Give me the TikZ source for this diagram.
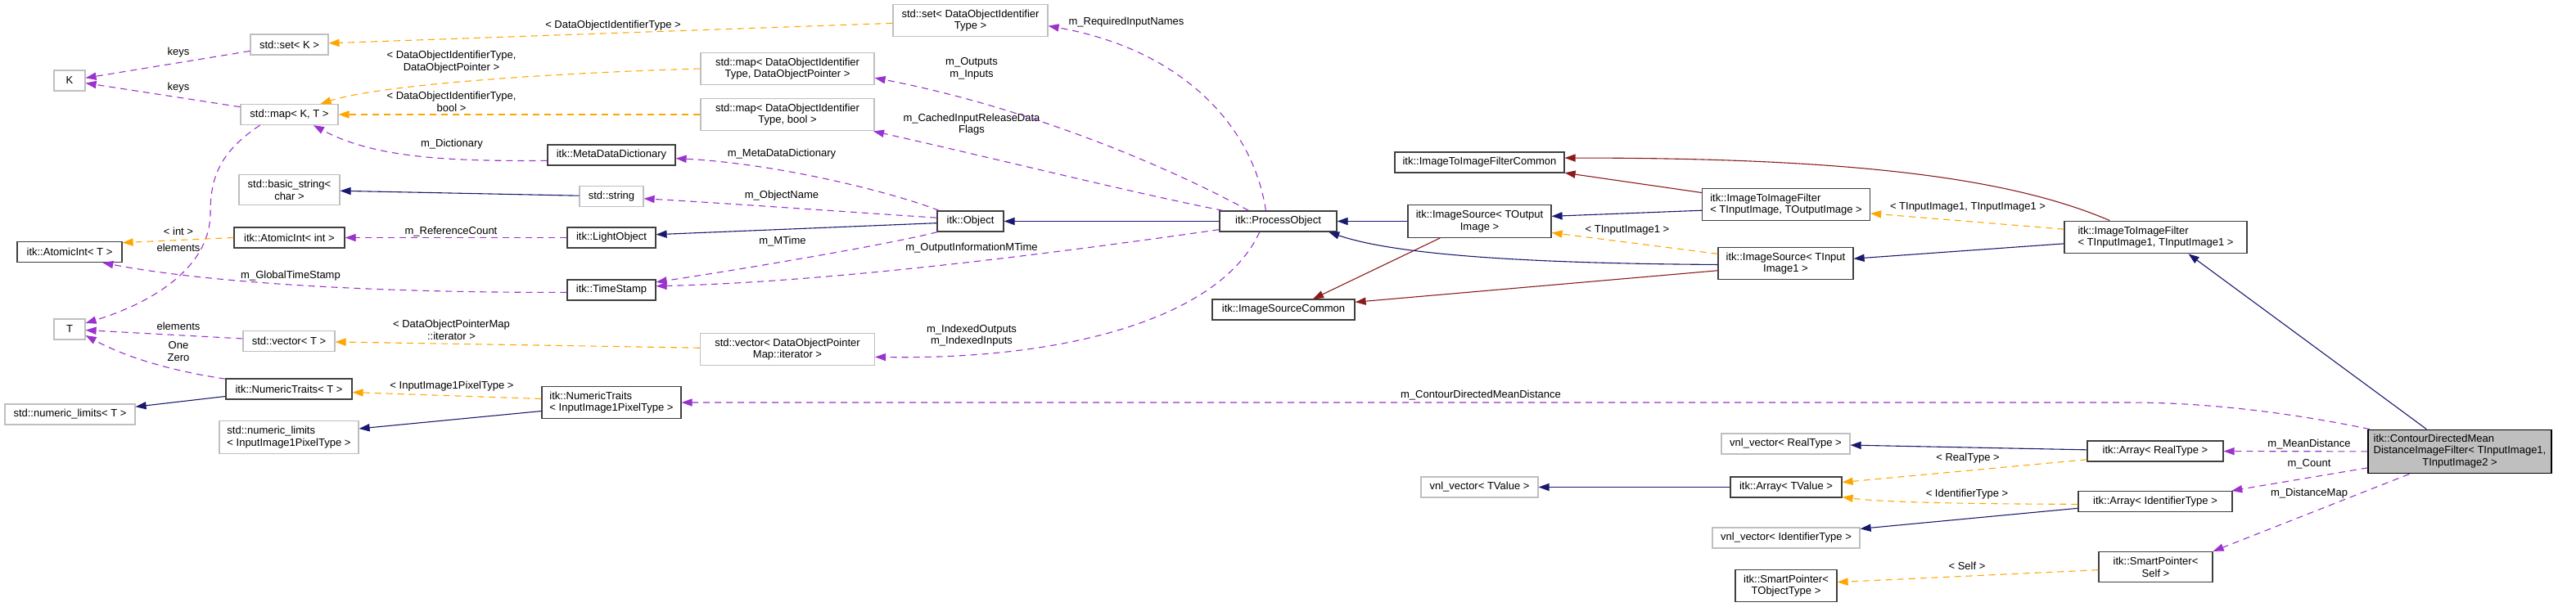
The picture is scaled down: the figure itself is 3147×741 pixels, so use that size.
\documentclass[tikz,border=0pt]{standalone}
\usepackage{fontspec}
\setmainfont{Liberation Sans}
\usetikzlibrary{arrows.meta}
\definecolor{InhBlue}{HTML}{191970}
\definecolor{ProtRed}{HTML}{8B1A1A}
\definecolor{UsePurple}{HTML}{9A32CD}
\definecolor{TmplOrange}{HTML}{FFA500}
\definecolor{ExtGray}{HTML}{BFBFBF}
\definecolor{ClsDark}{HTML}{404040}

\begin{document}
\begin{tikzpicture}[
  x=0.5pt,y=-0.5pt,
  font=\fontsize{6.5}{7.35}\selectfont,
  box/.style={rectangle,line width=0.6pt,minimum height=12.5pt,inner xsep=0pt,inner ysep=3.2pt,align=center},
  boxext/.style={box,draw=ExtGray},
  boxcls/.style={box,draw=ClsDark},
  boxmain/.style={box,draw=black,fill=ExtGray,inner ysep=2.4pt},
  lbl/.style={inner sep=0pt,align=center},
  tip/.style={-{Triangle[length=6.5pt,width=4.6pt]},line width=0.55pt},
  pubinh/.style={tip,draw=InhBlue},
  protinh/.style={tip,draw=ProtRed},
  usage/.style={tip,draw=UsePurple,dash pattern=on 4pt off 3pt},
  tmplinst/.style={tip,draw=TmplOrange,dash pattern=on 4pt off 3pt}
]
\useasboundingbox (0,0) rectangle (3147,741);

% classes
\node[boxext,minimum width=47.5pt] (setK) at (353.5,54.5) {std::set< K >};
\node[boxext,minimum width=19pt] (K) at (85,98.5) {K};
\node[boxext,minimum width=59.5pt] (mapKT) at (353.5,140) {std::map< K, T >};
\node[boxext,minimum width=61.5pt] (bstr) at (353.5,232) {std::basic\_string<\\char >};
\node[boxcls,minimum width=67.5pt] (aiInt) at (353.5,290.5) {itk::AtomicInt< int >};
\node[boxcls,minimum width=64pt] (aiT) at (85,308) {itk::AtomicInt< T >};
\node[boxext,minimum width=19pt] (T) at (85,402.5) {T};
\node[boxext,minimum width=56pt] (vecT) at (353,417) {std::vector< T >};
\node[boxcls,minimum width=77pt] (ntT) at (353,475.5) {itk::NumericTraits< T >};
\node[boxext,minimum width=79.5pt] (nlT) at (85.5,506.5) {std::numeric\_limits< T >};
\node[boxext,minimum width=85pt,align=left] (nlPix) at (353,534.5) {std::numeric\_limits\\< InputImage1PixelType >};
\node[boxext,minimum width=106pt] (mapDOP) at (962,84) {std::map< DataObjectIdentifier\\Type, DataObjectPointer >};
\node[boxext,minimum width=106pt] (mapBool) at (962,140) {std::map< DataObjectIdentifier\\Type, bool >};
\node[boxcls,minimum width=78pt] (mdd) at (747,189.5) {itk::MetaDataDictionary};
\node[boxext,minimum width=39pt] (str) at (747,240) {std::string};
\node[boxcls,minimum width=54pt] (lobj) at (747,290.5) {itk::LightObject};
\node[boxcls,minimum width=54pt] (ts) at (747,354.5) {itk::TimeStamp};
\node[boxext,minimum width=106.5pt] (vecIt) at (962,427) {std::vector< DataObjectPointer\\Map::iterator >};
\node[boxcls,minimum width=85pt,align=left] (ntPix) at (747,492) {itk::NumericTraits\\< InputImage1PixelType >};
\node[boxext,minimum width=94.5pt] (setDOI) at (1185.5,25) {std::set< DataObjectIdentifier\\Type >};
\node[boxcls,minimum width=40.5pt] (obj) at (1185.5,270.5) {itk::Object};
\node[boxcls,minimum width=71.5pt] (po) at (1561.5,270.5) {itk::ProcessObject};
\node[boxcls,minimum width=103.5pt] (itifc) at (1807.5,198.5) {itk::ImageToImageFilterCommon};
\node[boxcls,minimum width=87.5pt] (isOut) at (1807.5,270.5) {itk::ImageSource< TOutput\\Image >};
\node[boxcls,minimum width=87pt] (isc) at (1568,378.5) {itk::ImageSourceCommon};
\node[boxcls,minimum width=102.5pt,align=left] (itifIO) at (2182,250) {itk::ImageToImageFilter\\< TInputImage, TOutputImage >};
\node[boxcls,minimum width=82.5pt] (isIn) at (2181.5,322) {itk::ImageSource< TInput\\Image1 >};
\node[boxcls,minimum width=111.5pt,align=left] (itif11) at (2633.5,290) {itk::ImageToImageFilter\\< TInputImage1, TInputImage1 >};
\node[boxext,minimum width=71.5pt] (vnlTV) at (1807.5,595.5) {vnl\_vector< TValue >};
\node[boxext,minimum width=78.5pt] (vnlRT) at (2181.5,542.5) {vnl\_vector< RealType >};
\node[boxcls,minimum width=68pt] (arrTV) at (2182,595.5) {itk::Array< TValue >};
\node[boxext,minimum width=90pt] (vnlId) at (2182,657.5) {vnl\_vector< IdentifierType >};
\node[boxcls,minimum width=62pt] (spTO) at (2182,716) {itk::SmartPointer<\\TObjectType >};
\node[boxcls,minimum width=83pt] (arrRT) at (2633,551.5) {itk::Array< RealType >};
\node[boxcls,minimum width=94pt] (arrId) at (2633,613) {itk::Array< IdentifierType >};
\node[boxcls,minimum width=69.5pt] (spSelf) at (2633.5,693) {itk::SmartPointer<\\Self >};
\node[boxmain,minimum width=112pt] (main) at (3005,552)
  {\begin{tabular}{@{}l@{}}itk::ContourDirectedMean\\DistanceImageFilter< TInputImage1,\\\multicolumn{1}{@{}c@{}}{TInputImage2 >}\end{tabular}};

% edge labels
\node[lbl] (lKeysA) at (218,64) {keys};
\node[lbl] (lKeysB) at (218,107) {keys};
\node[lbl] (lInt) at (218,283) {< int >};
\node[lbl] (lElemA) at (218,303) {elements};
\node[lbl] (lGlobTS) at (355,337) {m\_GlobalTimeStamp};
\node[lbl] (lElemB) at (218,399) {elements};
\node[lbl] (lOneZero) at (218,429.5) {One\\Zero};
\node[lbl] (lDOIT) at (749,31) {< DataObjectIdentifierType >};
\node[lbl] (lDOP) at (551.5,75.5) {< DataObjectIdentifierType,\\DataObjectPointer >};
\node[lbl] (lDBool) at (551.5,124) {< DataObjectIdentifierType,\\bool >};
\node[lbl] (lDict) at (552,176) {m\_Dictionary};
\node[lbl] (lMDD) at (955,188) {m\_MetaDataDictionary};
\node[lbl] (lObjName) at (955,239) {m\_ObjectName};
\node[lbl] (lRefCnt) at (551,283) {m\_ReferenceCount};
\node[lbl] (lMTime) at (956,295) {m\_MTime};
\node[lbl] (lMapIt) at (551.5,403) {< DataObjectPointerMap\\::iterator >};
\node[lbl] (lPixT) at (552,472) {< InputImage1PixelType >};
\node[lbl] (lReqIn) at (1376,27) {m\_RequiredInputNames};
\node[lbl] (lOutIn) at (1187,83.5) {m\_Outputs\\m\_Inputs};
\node[lbl] (lCached) at (1187,152) {m\_CachedInputReleaseData\\Flags};
\node[lbl] (lOIMT) at (1187,303) {m\_OutputInformationMTime};
\node[lbl] (lIdx) at (1187,410) {m\_IndexedOutputs\\m\_IndexedInputs};
\node[lbl] (lTIn) at (1988,281) {< TInputImage1 >};
\node[lbl] (lTIn11) at (2404,253) {< TInputImage1, TInputImage1 >};
\node[lbl] (lCDMD) at (1809,483) {m\_ContourDirectedMeanDistance};
\node[lbl] (lRealT) at (2404,560) {< RealType >};
\node[lbl] (lIdT) at (2403,604) {< IdentifierType >};
\node[lbl] (lSelf) at (2403,692) {< Self >};
\node[lbl] (lMeanD) at (2821,543) {m\_MeanDistance};
\node[lbl] (lCount) at (2821,567) {m\_Count};
\node[lbl] (lDMap) at (2821,603) {m\_DistanceMap};

% connectors
\draw[usage] (setK) -- (K);
\draw[usage] (mapKT) -- (K);
\draw[usage] (mapKT.200) .. controls (270,185) and (257,215) .. (257,260) .. controls (257,330) and (180,372) .. (T.21);
\draw[tmplinst] (setDOI) -- (setK);
\draw[tmplinst] (mapDOP.west) .. controls (650,90) and (460,105) .. (mapKT.19);
\draw[tmplinst] (mapBool) -- (mapKT);
\draw[tmplinst] (vecIt) -- (vecT);
\draw[usage] (vecT) -- (T);
\draw[usage] (ntT.171) .. controls (220,455) and (160,440) .. (T.-21);
\draw[pubinh] (ntT) -- (nlT);
\draw[tmplinst] (aiInt.west) -- (aiT.10);
\draw[usage] (lobj) -- (aiInt);
\draw[usage] (ts.183) .. controls (450,358) and (250,345) .. (aiT.-18);
\draw[usage] (mdd.185) .. controls (560,197) and (460,195) .. (mapKT.-24);
\draw[pubinh] (str) -- (bstr);
\draw[usage] (obj.161) .. controls (1090,235) and (950,200) .. (mdd.-3);
\draw[usage] (obj.174) .. controls (1050,260) and (880,248) .. (str.-4);
\draw[pubinh] (obj.183) -- (lobj.4);
\draw[usage] (obj.198) .. controls (1080,300) and (900,330) .. (ts.10);
\draw[usage] (po.188) .. controls (1250,315) and (1000,345) .. (ts.5);
\draw[pubinh] (po) -- (obj);
\draw[usage] (po.139) .. controls (1530,150) and (1440,60) .. (setDOI.-4);
\draw[usage] (po.160) .. controls (1420,200) and (1250,130) .. (mapDOP.-6);
\draw[usage] (po.169) .. controls (1380,235) and (1200,190) .. (mapBool.-11);
\draw[usage] (po.210) .. controls (1490,390) and (1300,440) .. (vecIt.-5);
\draw[pubinh] (isOut) -- (po);
\draw[protinh] (isOut.203) -- (isc.20);
\draw[protinh] (itifIO.172) -- (itifc.-7);
\draw[pubinh] (itifIO.184) -- (isOut.4);
\draw[tmplinst] (isIn.172) -- (isOut.-9);
\draw[pubinh] (isIn.181) .. controls (1850,322) and (1700,310) .. (po.-12);
\draw[protinh] (isIn.186) -- (isc.6);
\draw[protinh] (itif11.160) .. controls (2450,215) and (2250,193) .. (itifc.3);
\draw[tmplinst] (itif11.175) -- (itifIO.-6);
\draw[pubinh] (itif11.184) -- (isIn.4);
\draw[pubinh] (main.146) -- (itif11.-27);
\draw[usage] (main.166) .. controls (2800,505) and (2700,492) .. (2600,492) -- (ntPix.east);
\draw[usage] (main) -- (arrRT);
\draw[usage] (main.190) -- (arrId.8);
\draw[usage] (main.204) -- (spSelf.north east);
\draw[tmplinst] (ntPix.177) -- (ntT.-3);
\draw[pubinh] (ntPix.187) -- (nlPix.7);
\draw[pubinh] (arrRT) -- (vnlRT);
\draw[tmplinst] (arrRT.187) -- (arrTV.5);
\draw[pubinh] (arrTV) -- (vnlTV);
\draw[tmplinst] (arrId.182) .. controls (2400,616) and (2300,614) .. (arrTV.-10);
\draw[pubinh] (arrId.185) -- (vnlId.7);
\draw[tmplinst] (spSelf.183) -- (spTO.4);
\end{tikzpicture}
\end{document}
